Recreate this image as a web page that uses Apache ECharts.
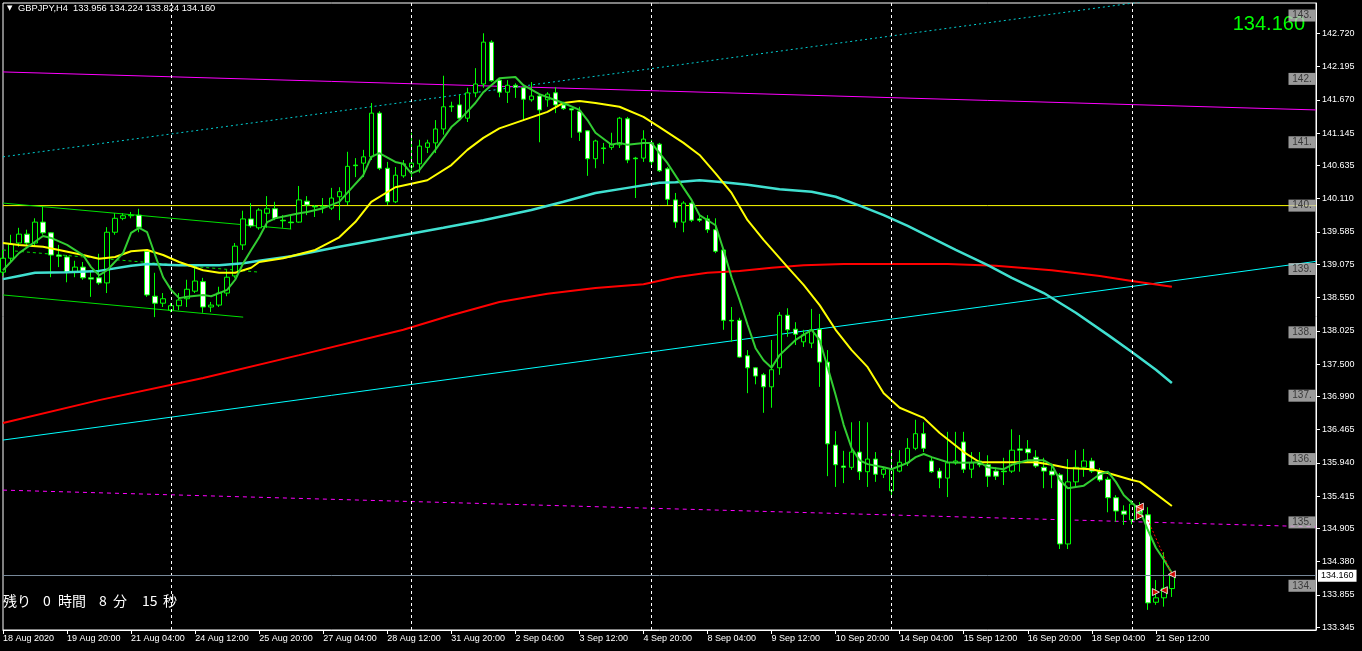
<!DOCTYPE html>
<html><head><meta charset="utf-8">
<script src="https://cdn.jsdelivr.net/npm/echarts@6/dist/echarts.min.js"></script>
<style>html,body{margin:0;padding:0;background:#000;}#c{width:1362px;height:651px;}</style>
</head><body><div id="c"></div>
<script>
// ---- data ----
const tickLabels = ['18 Aug 2020','19 Aug 20:00','21 Aug 04:00','24 Aug 12:00','25 Aug 20:00','27 Aug 04:00','28 Aug 12:00','31 Aug 20:00','2 Sep 04:00','3 Sep 12:00','4 Sep 20:00','8 Sep 04:00','9 Sep 12:00','10 Sep 20:00','14 Sep 04:00','15 Sep 12:00','16 Sep 20:00','18 Sep 04:00','21 Sep 12:00'];
const priceTicks = [142.720,142.195,141.670,141.145,140.635,140.110,139.585,139.075,138.550,138.025,137.500,136.990,136.465,135.940,135.415,134.905,134.380,133.855,133.345];
const levelLabels = [143,142,141,140,139,138,137,136,135,134];
const weekStarts = [21,51,81,111,141];
const bidPrice = 134.160;

const opens = [138.95,139.17,139.41,139.55,139.41,139.74,139.57,139.22,139.19,138.95,139.03,138.86,138.86,138.78,139.58,139.80,139.84,139.85,139.28,138.57,
138.46,138.35,138.42,138.53,138.65,138.80,138.40,138.43,138.62,138.89,139.38,139.79,139.65,139.88,139.95,139.77,139.74,139.74,140.07,139.99,
139.98,139.96,140.14,140.06,140.64,140.67,140.77,141.46,140.59,140.06,140.47,140.61,140.66,140.92,140.99,141.21,141.57,141.59,141.38,141.78,
141.92,142.58,141.98,141.79,141.90,141.86,141.67,141.73,141.67,141.78,141.59,141.53,141.49,141.18,140.74,140.91,140.92,140.96,141.37,140.75,
140.75,140.99,140.97,140.58,140.09,139.74,140.04,139.79,139.79,139.62,139.30,138.19,138.19,137.63,137.44,137.33,137.14,137.44,138.27,138.05,
137.85,137.83,138.05,137.53,136.22,135.89,135.87,136.11,135.80,136.00,135.76,135.50,135.81,135.94,136.17,136.40,135.97,135.81,135.70,135.94,
136.27,135.84,135.97,135.91,135.81,135.81,135.81,136.16,136.16,136.03,135.87,135.81,135.75,134.66,135.64,135.87,135.97,135.81,135.68,135.39,
135.18,135.04,135.26,135.12,133.74,133.81,133.956];
const closes = [139.17,139.39,139.55,139.41,139.74,139.57,139.22,139.20,138.95,139.03,138.86,138.84,138.78,139.58,139.80,139.84,139.85,139.66,138.59,138.46,
138.53,138.42,138.51,138.68,138.81,138.40,138.43,138.62,138.87,139.36,139.79,139.68,139.93,139.95,139.80,139.76,139.73,140.09,140.01,139.98,
139.99,140.12,140.22,140.62,140.63,140.77,141.46,140.59,140.06,140.48,140.66,140.67,140.94,140.99,141.21,141.56,141.56,141.38,141.78,141.92,
142.58,141.97,141.79,141.90,141.87,141.68,141.73,141.51,141.76,141.59,141.53,141.51,141.16,140.74,141.02,140.90,140.97,141.38,140.72,140.74,
141.05,140.69,140.55,140.10,139.74,140.04,139.77,139.77,139.62,139.28,138.19,138.18,137.61,137.44,137.31,137.14,137.41,138.27,138.04,137.97,
137.96,138.04,137.53,136.24,135.91,135.87,136.11,135.80,136.00,135.76,135.84,135.83,135.95,136.17,136.40,136.17,135.80,135.70,135.94,135.97,
135.84,135.94,135.91,135.73,135.73,135.80,136.14,136.14,136.10,135.89,135.81,135.75,134.66,135.64,135.87,135.97,135.81,135.67,135.39,135.18,
135.13,135.29,135.15,133.73,133.81,133.96,134.160];
const lows = [138.89,139.11,139.35,139.38,139.36,139.54,138.87,139.03,138.79,138.87,138.83,138.56,138.75,138.62,139.54,139.77,139.80,139.58,138.56,138.24,
138.40,138.32,138.35,138.40,138.62,138.31,138.32,138.40,138.57,138.86,139.30,139.65,139.62,139.65,139.77,139.65,139.63,139.73,139.85,139.82,
139.88,139.93,139.77,140.01,140.45,140.45,140.72,140.56,140.01,140.04,140.44,140.45,140.52,140.83,140.83,141.12,141.48,141.34,141.32,141.71,
141.86,141.95,141.71,141.62,141.70,141.35,141.64,141.00,141.56,141.46,141.51,141.07,141.02,140.47,140.59,140.66,140.88,140.91,140.67,140.12,
140.69,140.64,140.53,140.01,139.65,139.58,139.74,139.74,139.57,139.25,138.04,137.85,137.60,137.04,137.18,136.73,136.81,137.33,137.93,137.80,
137.77,137.75,137.14,135.73,135.56,135.62,135.83,135.67,135.56,135.64,135.70,135.43,135.79,135.89,136.14,136.11,135.78,135.54,135.40,135.91,
135.78,135.70,135.87,135.56,135.67,135.59,135.78,135.80,135.94,135.86,135.54,135.54,134.58,134.58,135.56,135.72,135.78,135.64,135.16,135.01,
134.96,134.97,135.09,133.62,133.70,133.67,133.824];
const highs = [139.30,139.54,139.65,139.62,139.80,139.98,139.58,139.38,139.22,139.13,139.11,138.98,139.24,139.66,139.88,139.88,139.90,139.95,139.30,138.94,
138.62,138.46,138.62,138.83,139.03,138.86,138.48,138.72,138.98,139.41,139.92,140.04,139.96,140.15,140.06,139.85,139.85,140.31,140.15,140.01,
140.12,140.28,140.29,140.85,140.75,140.88,141.62,141.49,140.69,140.61,140.72,141.15,141.04,141.04,141.35,142.05,141.64,141.75,141.86,142.17,
142.72,142.61,142.00,141.98,141.93,141.87,141.95,141.75,141.79,141.87,141.64,141.53,141.56,141.19,141.04,140.99,141.15,141.40,141.40,140.77,
141.19,141.04,140.99,140.61,140.20,140.07,140.06,139.85,139.85,139.80,139.32,138.40,138.23,137.72,137.45,137.36,137.88,138.32,138.38,138.16,
138.04,138.37,138.29,137.72,136.44,136.13,136.58,136.60,136.58,136.11,135.87,136.14,136.14,136.33,136.62,136.58,136.02,135.86,136.43,136.43,
136.43,136.11,136.11,136.06,135.87,136.02,136.47,136.38,136.30,136.14,136.02,135.91,135.78,136.00,136.14,136.16,136.02,135.86,135.72,135.43,
135.27,135.35,135.32,135.24,134.09,134.53,134.224];

// moving averages, read at sample bars: [bar index, price]
const maFast = [[0,138.98],[2,139.25],[4,139.43],[5,139.52],[6,139.49],[8,139.38],[10,139.22],[11,139.03],[12,138.90],[13,138.98],[15,139.25],[16,139.57],[17,139.65],[18,139.58],[19,139.22],[20,138.87],[21,138.67],[22,138.54],[23,138.56],[25,138.59],[26,138.57],[28,138.67],[29,138.83],[30,139.09],[31,139.30],[32,139.50],[33,139.74],[34,139.80],[37,139.88],[38,139.90],[40,139.96],[42,140.06],[43,140.20],[45,140.48],[46,140.77],[47,140.83],[49,140.69],[50,140.66],[51,140.51],[52,140.56],[54,140.88],[56,141.24],[57,141.35],[59,141.62],[60,141.79],[61,141.90],[62,142.01],[64,142.03],[65,141.90],[67,141.76],[68,141.71],[70,141.62],[72,141.51],[73,141.35],[74,141.15],[76,140.96],[77,140.99],[78,140.96],[80,140.99],[81,140.99],[82,140.83],[83,140.67],[85,140.28],[86,140.09],[87,139.85],[89,139.69],[90,139.30],[91,138.87],[92,138.51],[93,138.12],[94,137.75],[95,137.56],[96,137.44],[97,137.64],[99,137.88],[101,138.04],[102,137.88],[103,137.45],[104,137.01],[105,136.54],[106,136.17],[107,135.98],[108,135.92],[110,135.87],[111,135.84],[112,135.89],[113,135.94],[114,136.03],[115,136.08],[116,136.03],[118,135.95],[120,135.94],[122,135.95],[123,135.87],[125,135.84],[126,135.91],[128,135.98],[130,135.98],[131,135.91],[132,135.67],[133,135.54],[135,135.58],[136,135.67],[137,135.76],[138,135.80],[139,135.64],[140,135.43],[141,135.31],[142,135.20],[143,134.88],[144,134.60],[145,134.41],[146,134.20]];
const maYellow = [[0,139.41],[2,139.38],[5,139.35],[7,139.30],[10,139.22],[12,139.16],[14,139.19],[16,139.28],[18,139.30],[20,139.22],[22,139.11],[25,138.98],[27,138.94],[29,138.94],[31,139.02],[32,139.11],[35,139.17],[39,139.30],[42,139.50],[44,139.74],[46,140.06],[49,140.29],[53,140.40],[56,140.64],[58,140.88],[60,141.07],[62,141.22],[65,141.35],[68,141.48],[70,141.62],[72,141.65],[74,141.62],[77,141.56],[80,141.40],[82,141.24],[85,140.99],[87,140.80],[89,140.51],[91,140.20],[93,139.77],[95,139.46],[98,139.03],[100,138.75],[102,138.43],[104,138.04],[106,137.72],[108,137.45],[110,137.04],[112,136.81],[115,136.65],[117,136.41],[120,136.11],[122,135.95],[125,135.95],[129,135.95],[131,135.91],[133,135.86],[136,135.84],[138,135.78],[141,135.67],[142,135.64],[144,135.45],[146,135.26]];
const maCyan = [[0,138.84],[2,138.89],[4,138.94],[8,138.95],[12,138.97],[16,139.05],[18,139.08],[22,139.06],[27,139.06],[30,139.09],[32,139.13],[36,139.20],[42,139.35],[48,139.49],[55,139.65],[60,139.77],[66,139.93],[70,140.06],[74,140.20],[78,140.28],[82,140.36],[84,140.37],[87,140.40],[90,140.37],[93,140.33],[97,140.26],[101,140.22],[104,140.14],[107,140.00],[110,139.85],[113,139.68],[116,139.49],[119,139.30],[123,139.06],[126,138.86],[130,138.62],[134,138.31],[138,137.96],[141,137.69],[144,137.41],[146,137.20]];
const maRed = [[0,136.57],[12,136.93],[25,137.28],[37,137.64],[50,138.04],[56,138.27],[62,138.48],[68,138.61],[74,138.70],[80,138.76],[84,138.87],[88,138.94],[92,138.97],[96,139.02],[100,139.06],[105,139.08],[112,139.08],[118,139.08],[124,139.05],[131,138.98],[137,138.89],[141,138.81],[146,138.72]];

// drawn objects: [bar index, price] end points
const magentaLine = [[0,142.11],[164,141.51]];
const magentaDashed = [[0,135.51],[164,134.93]];
const cyanTrend = [[0,136.30],[164,139.12]];
const cyanDotted = [[0,140.77],[164,143.59]];
const yellowLevel = [[0,140.00],[164,140.00]];
const chanUpper = [[0,140.04],[36,139.63]];
const chanLower = [[0,138.59],[30,138.24]];
const chanMid = [[0,139.30],[32,138.95]];
const tradeArrowsR = [[141.7,135.21],[141.5,135.10],[143.6,133.90]];
const tradeArrowsL = [[142.1,135.25],[145.3,133.93],[146.2,134.18]];
const tradeLine = [[142.5,135.04],[146,134.18]];

// ---- chart ----
const nCat = 165;
const cats = Array.from({length:nCat}, (_, i) => String(i));
const candleData = opens.map((o, i) => [o, closes[i], lows[i], highs[i]]);
const FONT = 'Liberation Sans';
const chart = echarts.init(document.getElementById('c'), null, {renderer:'canvas'});

function lineSeries(data, color, width, type, z) {
  return {type:'line', data, showSymbol:false, symbol:'none', silent:true, z:z||3,
    lineStyle:{color, width, type:type||'solid'}, animation:false, clip:true};
}

chart.setOption({
  backgroundColor:'#000',
  animation:false,
  grid:{left:3, right:46, top:3, bottom:21, show:true, borderColor:'#ffffff', borderWidth:1, backgroundColor:'#000'},
  xAxis:{type:'category', data:cats, boundaryGap:false,
    axisLine:{lineStyle:{color:'#fff', width:1}},
    axisTick:{show:true, length:4, lineStyle:{color:'#fff'}, interval:(i)=> i%8===0 && i<=144},
    axisLabel:{color:'#fff', fontFamily:FONT, fontSize:9, margin:4, align:'left',
      interval:(i)=> i%8===0 && i<=144, formatter:(v,i)=> tickLabels[Number(v)/8] || ''},
    splitLine:{show:false}},
  yAxis:{type:'value', position:'right', min:133.302, max:143.198, scale:true,
    axisLine:{show:true, lineStyle:{color:'#fff'}},
    axisTick:{show:true, length:4, lineStyle:{color:'#fff'}, customValues:priceTicks},
    axisLabel:{color:'#fff', fontFamily:FONT, fontSize:9, margin:6, customValues:priceTicks,
      formatter:(v)=> v.toFixed(3)},
    splitLine:{show:false}},
  graphic:[
    {type:'text', left:7, top:5, style:{text:'▼', fill:'#fff', font:'7px DejaVu Sans'}},
    {type:'text', left:18, top:4, style:{text:'GBPJPY,H4  133.956 134.224 133.824 134.160', fill:'#fff', font:'9.3px '+FONT}},
    {type:'text', right:57, top:14, style:{text:bidPrice.toFixed(3), fill:'#00ff00', font:'20px '+FONT}},
    {type:'text', left:3, top:594, style:{text:'残り', fill:'#fff', font:'14px "Noto Sans CJK JP"'}},
    {type:'text', left:43, top:594, style:{text:'0', fill:'#fff', font:'14px "Noto Sans CJK JP"'}},
    {type:'text', left:58, top:594, style:{text:'時間', fill:'#fff', font:'14px "Noto Sans CJK JP"'}},
    {type:'text', left:99, top:594, style:{text:'8', fill:'#fff', font:'14px "Noto Sans CJK JP"'}},
    {type:'text', left:113, top:594, style:{text:'分', fill:'#fff', font:'14px "Noto Sans CJK JP"'}},
    {type:'text', left:142, top:594, style:{text:'15', fill:'#fff', font:'14px "Noto Sans CJK JP"'}},
    {type:'text', left:163, top:594, style:{text:'秒', fill:'#fff', font:'14px "Noto Sans CJK JP"'}}
  ],
  series:[
    lineSeries(cyanDotted, '#00ced1', 1, [2,3], 2),
    lineSeries(magentaLine, '#ff00ff', 1, 'solid', 2),
    lineSeries(magentaDashed, '#ff00ff', 1, [4,4], 2),
    lineSeries(cyanTrend, '#00ffff', 1, 'solid', 2),
    lineSeries(yellowLevel, '#ffff00', 1, 'solid', 2),
    lineSeries(chanUpper, '#00e000', 1, 'solid', 2),
    lineSeries(chanLower, '#00e000', 1, 'solid', 2),
    lineSeries(chanMid, '#00e000', 1, [3,3], 2),
    {type:'candlestick', data:candleData, barWidth:5, z:3, silent:true, clip:true,
      itemStyle:{color:'#000000', color0:'#ffffff', borderColor:'#00ff00', borderColor0:'#00ff00', borderColorDoji:'#00ff00', borderWidth:1},
      markLine:{silent:true, symbol:['none','none'], animation:false,
        data:[
          ...weekStarts.map(w=>({xAxis:String(w), lineStyle:{color:'#fff', type:[3,3], width:1}, label:{show:false}})),
          {yAxis:bidPrice, lineStyle:{color:'#778899', type:'solid', width:1},
            label:{show:true, position:'end', distance:2, formatter:bidPrice.toFixed(3), color:'#000', backgroundColor:'#fff', padding:[2,3,1,3], fontFamily:FONT, fontSize:9}}
        ]}},
    lineSeries(maRed, '#ff0000', 2, 'solid', 4),
    lineSeries(maCyan, '#40e0d0', 2.5, 'solid', 4),
    lineSeries(maYellow, '#ffff00', 2, 'solid', 4),
    lineSeries(maFast, '#32cd32', 2, 'solid', 5),
    lineSeries(tradeLine, '#ff0000', 1, [2,2], 6),
    {type:'scatter', data:tradeArrowsR, symbol:'triangle', symbolRotate:-90, symbolSize:7, z:7, silent:true,
      itemStyle:{color:'#ff0000', borderColor:'#fff', borderWidth:1}},
    {type:'scatter', data:tradeArrowsL, symbol:'triangle', symbolRotate:90, symbolSize:7, z:7, silent:true,
      itemStyle:{color:'#ff0000', borderColor:'#fff', borderWidth:1}},
    {type:'scatter', data:levelLabels.map(v=>[162, v]), symbol:'rect', symbolSize:[27,12], symbolOffset:[2,0], z:8, silent:true,
      itemStyle:{color:'#c0c0c0'},
      label:{show:true, position:'inside', offset:[0,0], formatter:(p)=> p.value[1]+'.', color:'#202020', fontFamily:FONT, fontSize:10}}
  ]
});
</script></body></html>
